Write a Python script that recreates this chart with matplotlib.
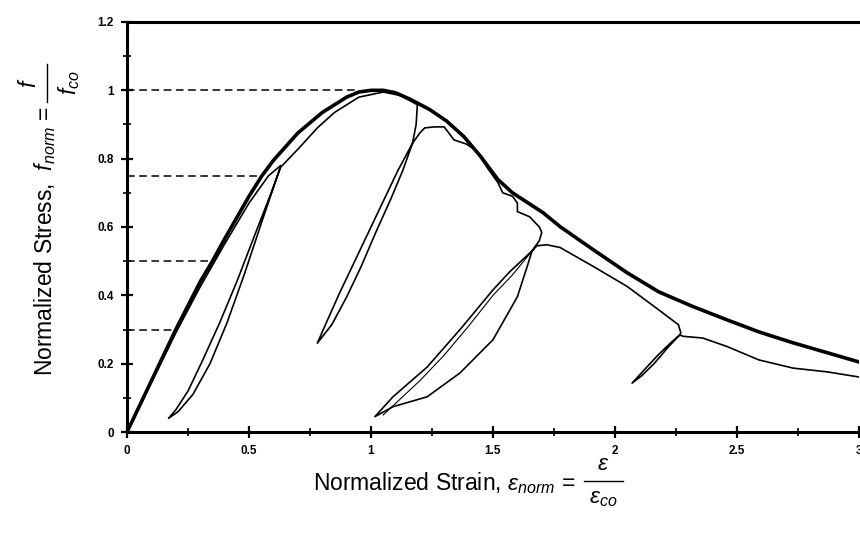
import numpy as np
import matplotlib
matplotlib.use('Agg')
from matplotlib import pyplot as plt
from matplotlib.ticker import MultipleLocator
from matplotlib.lines import Line2D

plt.rcParams['font.family'] = 'Liberation Sans'
plt.rcParams['mathtext.fontset'] = 'custom'
plt.rcParams['mathtext.rm'] = 'Liberation Sans'
plt.rcParams['mathtext.it'] = 'Liberation Sans:italic'

#==========  envelope (thick curve)
env_x = [0, 0.1, 0.2, 0.3, 0.35, 0.4, 0.5, 0.553, 0.6, 0.7, 0.8, 0.9, 0.95, 1.0, 1.05, 1.1,
         1.16, 1.24, 1.31, 1.38, 1.45, 1.52, 1.58, 1.705, 1.775, 1.91, 2.05, 2.18, 2.32,
         2.46, 2.59, 2.73, 2.87, 3.0]
env_y = [0, 0.15, 0.30, 0.44, 0.50, 0.565, 0.69, 0.75, 0.795, 0.875, 0.935, 0.98, 0.995,
         1.0, 1.0, 0.993, 0.974, 0.944, 0.91, 0.865, 0.806, 0.739, 0.70, 0.642, 0.601,
         0.534, 0.466, 0.41, 0.367, 0.328, 0.293, 0.261, 0.232, 0.205]

#==========  test curve, piece by piece
rise_x = [0, 0.1, 0.2, 0.3, 0.4, 0.5, 0.58, 0.63]
rise_y = [0, 0.145, 0.29, 0.425, 0.55, 0.67, 0.75, 0.78]

loop1_down_x = [0.63, 0.6, 0.55, 0.48, 0.41, 0.34, 0.27, 0.21, 0.17]
loop1_down_y = [0.78, 0.715, 0.61, 0.46, 0.32, 0.20, 0.11, 0.06, 0.04]
loop1_up_x = [0.17, 0.2, 0.25, 0.31, 0.38, 0.45, 0.52, 0.58, 0.63]
loop1_up_y = [0.04, 0.065, 0.12, 0.21, 0.32, 0.44, 0.57, 0.68, 0.775]

peak_x = [0.63, 0.71, 0.78, 0.85, 0.95, 1.05, 1.12, 1.19, 1.185, 1.17]
peak_y = [0.775, 0.835, 0.89, 0.935, 0.98, 0.995, 0.985, 0.958, 0.90, 0.845]

loop2_down_x = [1.17, 1.13, 1.08, 1.02, 0.96, 0.90, 0.84, 0.78]
loop2_down_y = [0.845, 0.765, 0.68, 0.585, 0.485, 0.395, 0.315, 0.26]
loop2_up_x = [0.78, 0.82, 0.87, 0.93, 0.99, 1.05, 1.11, 1.17]
loop2_up_y = [0.26, 0.325, 0.405, 0.495, 0.585, 0.675, 0.765, 0.845]

soft1_x = [1.17, 1.18, 1.2, 1.22, 1.26, 1.3, 1.34, 1.39, 1.43, 1.48, 1.52, 1.54, 1.58,
           1.60, 1.60, 1.65, 1.69, 1.70, 1.69, 1.66]
soft1_y = [0.845, 0.855, 0.875, 0.89, 0.893, 0.893, 0.855, 0.843, 0.825, 0.77, 0.73, 0.70,
           0.69, 0.67, 0.645, 0.63, 0.60, 0.584, 0.56, 0.53]

loop3_down_x = [1.66, 1.64, 1.6, 1.5, 1.365, 1.23, 1.09, 1.016]
loop3_down_y = [0.53, 0.484, 0.396, 0.27, 0.173, 0.103, 0.074, 0.045]
loop3_up_x = [1.016, 1.09, 1.23, 1.365, 1.5, 1.57, 1.66]
loop3_up_y = [0.045, 0.103, 0.19, 0.30, 0.416, 0.47, 0.53]
loop3_in_x = [1.05, 1.2, 1.3, 1.4, 1.5, 1.58, 1.66]
loop3_in_y = [0.05, 0.15, 0.225, 0.31, 0.40, 0.46, 0.53]

soft2_x = [1.66, 1.68, 1.72, 1.775, 1.91, 2.05, 2.18, 2.26, 2.27, 2.265]
soft2_y = [0.53, 0.545, 0.548, 0.54, 0.485, 0.426, 0.357, 0.314, 0.29, 0.284]

loop4_down_x = [2.265, 2.22, 2.16, 2.11, 2.07]
loop4_down_y = [0.284, 0.25, 0.20, 0.165, 0.143]
loop4_up_x = [2.07, 2.12, 2.18, 2.23, 2.265]
loop4_up_y = [0.143, 0.182, 0.228, 0.262, 0.284]

tail_x = [2.265, 2.28, 2.36, 2.46, 2.59, 2.73, 2.87, 3.0]
tail_y = [0.284, 0.28, 0.275, 0.25, 0.211, 0.187, 0.176, 0.161]

#==========  dashed reference levels
dash_y = [1.0, 0.75, 0.5, 0.3]
dash_end = [0.95, 0.553, 0.35, 0.2]

#######################################################################################
#============  Criar Gráfico
#######################################################################################
W, H = 860, 539
fig = plt.figure(figsize=(8.6, 5.39), dpi=100)
ax = fig.add_axes([0.1477, 0.1985, 0.8511, 0.7607])

for yy, xe in zip(dash_y, dash_end):
    ax.plot([0, xe], [yy, yy], '--', color='black', linewidth=1.1, dashes=(5, 3))

ax.plot(env_x, env_y, '-', color='black', linewidth=2.6, solid_capstyle='round')

test_x = (rise_x + loop1_down_x + loop1_up_x + peak_x + loop2_down_x + loop2_up_x + soft1_x
          + loop3_down_x + loop3_up_x + soft2_x + loop4_down_x + loop4_up_x + tail_x)
test_y = (rise_y + loop1_down_y + loop1_up_y + peak_y + loop2_down_y + loop2_up_y + soft1_y
          + loop3_down_y + loop3_up_y + soft2_y + loop4_down_y + loop4_up_y + tail_y)
ax.plot(test_x, test_y, '-', color='black', linewidth=1.2)
ax.plot(loop3_in_x, loop3_in_y, '-', color='black', linewidth=0.8)

ax.set_xlim(0, 3.0)
ax.set_ylim(0, 1.2)

ax.xaxis.set_minor_locator(MultipleLocator(0.25))
ax.yaxis.set_minor_locator(MultipleLocator(0.1))
ax.set_xticks([0, 0.5, 1, 1.5, 2, 2.5, 3])
ax.set_xticklabels(['0', '0.5', '1', '1.5', '2', '2.5', '3'], fontweight='bold')
ax.set_yticks([0, 0.2, 0.4, 0.6, 0.8, 1.0, 1.2])
ax.set_yticklabels(['0', '0.2', '0.4', '0.6', '0.8', '1', '1.2'], fontweight='bold')

ax.tick_params(which='major', direction='inout', length=9, width=1.6, labelsize=8.5, pad=5)
ax.tick_params(which='minor', direction='inout', length=6, width=1.2)
ax.tick_params(axis='x', which='both', top=False)
ax.tick_params(axis='y', which='both', right=False)

ax.spines['right'].set_visible(False)
for s in ['left', 'bottom', 'top']:
    ax.spines[s].set_linewidth(2.2)

# eixo x: rotulo com fracao montada a mao
fs = 16.5
fig.text(575 / W, 1 - 490 / H, r'Normalized Strain, $\varepsilon_{norm}$ =',
         ha='right', va='baseline', fontsize=fs)
fig.text(603 / W, 1 - 475 / H, r'$\varepsilon$', ha='center', va='bottom', fontsize=fs)
fig.text(603 / W, 1 - 486 / H, r'$\varepsilon_{co}$', ha='center', va='top', fontsize=fs)
fig.add_artist(Line2D([584 / W, 623 / W], [1 - 481 / H, 1 - 481 / H], color='black',
                      linewidth=1.0, transform=fig.transFigure))

# eixo y: rotulo com fracao montada a mao
fig.text(45 / W, 1 - 106 / H, r'Normalized Stress,  $f_{norm}$ =', rotation=90,
         rotation_mode='anchor', ha='right', va='center', fontsize=fs)
fig.text(29 / W, 1 - 83 / H, r'$f$', rotation=90, rotation_mode='anchor',
         ha='center', va='center', fontsize=fs)
fig.text(69 / W, 1 - 83 / H, r'$f_{co}$', rotation=90, rotation_mode='anchor',
         ha='center', va='center', fontsize=fs)
fig.add_artist(Line2D([47 / W, 47 / W], [1 - 64 / H, 1 - 102 / H], color='black',
                      linewidth=1.0, transform=fig.transFigure))

fig.savefig('out.png', dpi=100)
